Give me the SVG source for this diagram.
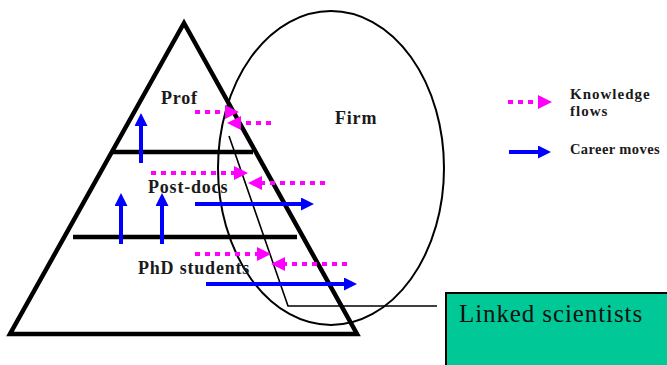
<svg xmlns="http://www.w3.org/2000/svg" width="667" height="365" viewBox="0 0 667 365">
<style>
.lbl{font-family:'Liberation Serif','Times New Roman',Times,serif;font-weight:bold;fill:#1a1a1a;font-size:18px;letter-spacing:0.8px}
.leg{font-family:'Liberation Serif','Times New Roman',Times,serif;font-weight:bold;fill:#1a1a1a;font-size:15px;letter-spacing:1px}
.thick{stroke:#000;stroke-width:4.5;fill:none}
.blue{stroke:#0000FF;stroke-width:4;fill:none}
.mag{stroke:#FF00FF;stroke-width:4;fill:none;stroke-dasharray:5 5}
</style>
<defs>
<marker id="hb" markerUnits="userSpaceOnUse" markerWidth="14" markerHeight="14" refX="5" refY="6.5" orient="auto" viewBox="0 0 14 14">
<path d="M0,0 L13,6.5 L0,13 z" fill="#0000FF"/>
</marker>
<marker id="hm" markerUnits="userSpaceOnUse" markerWidth="15" markerHeight="15" refX="5" refY="7" orient="auto" viewBox="0 0 15 15">
<path d="M0,0 L14,7 L0,14 z" fill="#FF00FF"/>
</marker>
</defs>
<rect width="667" height="365" fill="#fff"/>
<g id="firm">
<ellipse cx="331" cy="168" rx="113" ry="157" fill="none" stroke="#000" stroke-width="2"/>
<text class="lbl" x="335" y="124">Firm</text>
</g>
<g id="pyramid">
<polygon points="184,23 10,334 357,334" class="thick" stroke-linejoin="miter"/>
<line x1="113" y1="152" x2="253" y2="152" class="thick"/>
<line x1="73" y1="237" x2="297" y2="237" class="thick"/>
</g>
<g id="prof"><text class="lbl" x="161" y="104">Prof</text></g>
<g id="postdocs"><text class="lbl" x="148" y="193">Post-docs</text></g>
<g id="phd"><text class="lbl" x="138" y="274">PhD students</text></g>
<g id="linked">
<rect x="446" y="293" width="225" height="80" fill="#00C896" stroke="#000" stroke-width="2"/>
<text x="459" y="322" font-family="'Liberation Serif','Times New Roman',serif" font-size="25" letter-spacing="0.9" fill="#111">Linked scientists</text>
</g>
<g id="legend">
<line x1="508" y1="102" x2="543" y2="102" class="mag" marker-end="url(#hm)"/>
<text class="leg" x="570" y="99">Knowledge</text>
<text class="leg" x="570" y="116">flows</text>
<line x1="509" y1="152" x2="543" y2="152" class="blue" marker-end="url(#hb)"/>
<text class="leg" x="570" y="154" style="font-size:14.5px;letter-spacing:0.4px">Career moves</text>
</g>
<g id="connectors">
<polyline points="229,136 288,306 437,306" fill="none" stroke="#000" stroke-width="1.6"/>
<line x1="141" y1="163" x2="141" y2="121" class="blue" marker-end="url(#hb)"/>
<line x1="121" y1="244" x2="121" y2="201" class="blue" marker-end="url(#hb)"/>
<line x1="162" y1="244" x2="162" y2="201" class="blue" marker-end="url(#hb)"/>
<line x1="195" y1="204" x2="306" y2="204" class="blue" marker-end="url(#hb)"/>
<line x1="206" y1="284" x2="349" y2="284" class="blue" marker-end="url(#hb)"/>
<line x1="195" y1="112" x2="230" y2="112" class="mag" marker-end="url(#hm)"/>
<line x1="271" y1="123" x2="236" y2="123" class="mag" marker-end="url(#hm)"/>
<line x1="151" y1="173" x2="239" y2="173" class="mag" marker-end="url(#hm)"/>
<line x1="325" y1="183" x2="257" y2="183" class="mag" marker-end="url(#hm)"/>
<line x1="195" y1="254" x2="262" y2="254" class="mag" marker-end="url(#hm)"/>
<line x1="347" y1="264" x2="280" y2="264" class="mag" marker-end="url(#hm)"/>
</g>
</svg>
